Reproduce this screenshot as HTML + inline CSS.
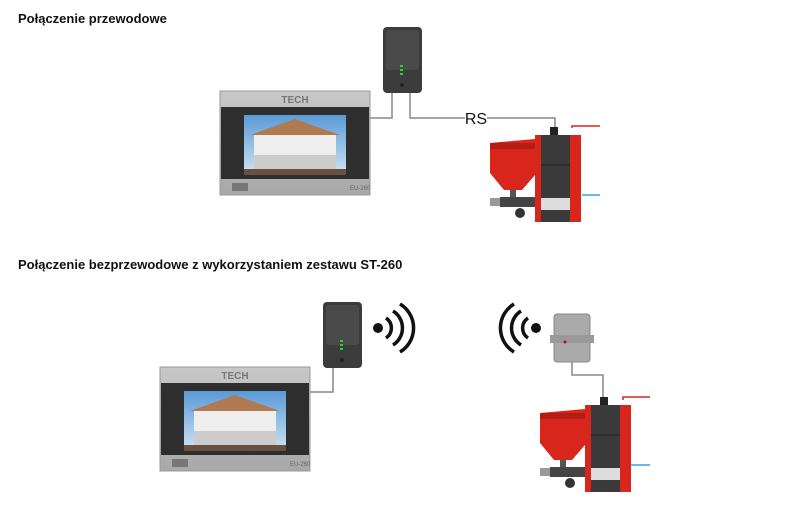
<!DOCTYPE html>
<html><head><meta charset="utf-8"><style>
body{margin:0;background:#fff;width:800px;height:520px;overflow:hidden;font-family:"Liberation Sans",sans-serif}
.t{position:absolute;left:18px;font-weight:bold;font-size:13px;color:#111}
</style></head><body>
<div class="t" style="top:11px">Połączenie przewodowe</div>
<div class="t" style="top:257px">Połączenie bezprzewodowe z wykorzystaniem zestawu ST-260</div>
<svg width="800" height="520" style="position:absolute;left:0;top:0">
<defs>
<linearGradient id="fr" x1="0" y1="0" x2="0" y2="1"><stop offset="0" stop-color="#c8c8c8"/><stop offset="1" stop-color="#a8a8a8"/></linearGradient>
<linearGradient id="sk" x1="0" y1="0" x2="0" y2="1"><stop offset="0" stop-color="#5a9ad8"/><stop offset="1" stop-color="#cfe4f4"/></linearGradient>
<g id="panel">
<rect x="0" y="0" width="150" height="104" fill="url(#fr)" stroke="#999"/>
<rect x="1" y="16" width="148" height="72" fill="#2e2e2e"/>
<text x="75" y="12" font-size="10" font-weight="bold" fill="#777" text-anchor="middle" font-family="Liberation Sans">TECH</text>
<rect x="24" y="24" width="102" height="60" fill="url(#sk)"/>
<polygon points="30,44 75,28 120,44" fill="#b07a50"/>
<rect x="34" y="44" width="82" height="36" fill="#eee"/>
<rect x="34" y="64" width="82" height="16" fill="#ccc"/>
<rect x="24" y="78" width="102" height="6" fill="#6a5040"/>
<rect x="12" y="92" width="16" height="8" fill="#777"/>
<text x="130" y="99" font-size="6" fill="#666" font-family="Liberation Sans">EU-260</text>
</g>
<g id="mod">
<rect x="0" y="0" width="39" height="66" rx="4" fill="#3c3c3c"/>
<rect x="3" y="3" width="33" height="40" rx="3" fill="#4a4a4a"/>
<rect x="17" y="38" width="3" height="2" fill="#3c3"/><rect x="17" y="42" width="3" height="2" fill="#3c3"/><rect x="17" y="46" width="3" height="2" fill="#3c3"/>
<circle cx="19" cy="58" r="2" fill="#222"/>
</g>
<g id="boil">
<polygon points="0,8 45,4 45,40 32,55 14,55 0,38" fill="#d8261c"/>
<rect x="0" y="8" width="45" height="6" fill="#b51c14"/>
<rect x="20" y="55" width="6" height="10" fill="#555"/>
<rect x="0" y="63" width="10" height="8" fill="#999"/>
<rect x="10" y="62" width="40" height="10" fill="#444"/>
<circle cx="30" cy="78" r="5" fill="#333"/>
<rect x="45" y="0" width="46" height="87" fill="#3a3a3a"/>
<rect x="45" y="0" width="6" height="87" fill="#d8261c"/>
<rect x="80" y="0" width="11" height="87" fill="#d8261c"/>
<rect x="51" y="63" width="29" height="12" fill="#ddd"/>
<line x1="51" y1="30" x2="80" y2="30" stroke="#222"/>
<rect x="60" y="-8" width="8" height="8" fill="#222"/>
</g>
</defs>
<use href="#panel" x="220" y="91"/>
<use href="#mod" x="383" y="27"/>
<g fill="none" stroke="#888" stroke-width="1.5">
<polyline points="370,118 392,118 392,93"/>
<polyline points="410,93 410,118 465,118"/>
<polyline points="487,118 555,118 555,127"/>
<polyline points="572,128 572,126 600,126" stroke="#d8261c"/>
<line x1="582" y1="195" x2="600" y2="195" stroke="#3aa0e0"/>
</g>
<text x="476" y="124" font-size="16" text-anchor="middle" fill="#111" font-family="Liberation Sans">RS</text>
<use href="#boil" x="490" y="135"/>

<use href="#panel" x="160" y="367"/>
<use href="#mod" x="323" y="302"/>
<rect x="554" y="314" width="36" height="48" rx="3" fill="#aaa" stroke="#888"/>
<rect x="550" y="335" width="44" height="8" fill="#999"/>
<circle cx="565" cy="342" r="1.5" fill="#d00"/>
<g fill="none" stroke="#888" stroke-width="1.5">
<polyline points="310,392 333,392 333,368"/>
<polyline points="572,362 572,375 603,375 603,398"/>
<polyline points="623,400 623,397 650,397" stroke="#d8261c"/>
<line x1="630" y1="465" x2="650" y2="465" stroke="#3aa0e0"/>
</g>
<use href="#boil" x="540" y="405"/>
<g fill="none" stroke="#111" stroke-width="3.5">
<circle cx="378" cy="328" r="5" fill="#111" stroke="none"/>
<path d="M386,318 a12,12 0 0 1 0,20"/>
<path d="M393,311 a20,20 0 0 1 0,34"/>
<path d="M400,304 a28,28 0 0 1 0,48"/>
<circle cx="536" cy="328" r="5" fill="#111" stroke="none"/>
<path d="M528,318 a12,12 0 0 0 0,20"/>
<path d="M521,311 a20,20 0 0 0 0,34"/>
<path d="M514,304 a28,28 0 0 0 0,48"/>
</g>
</svg>
</body></html>
